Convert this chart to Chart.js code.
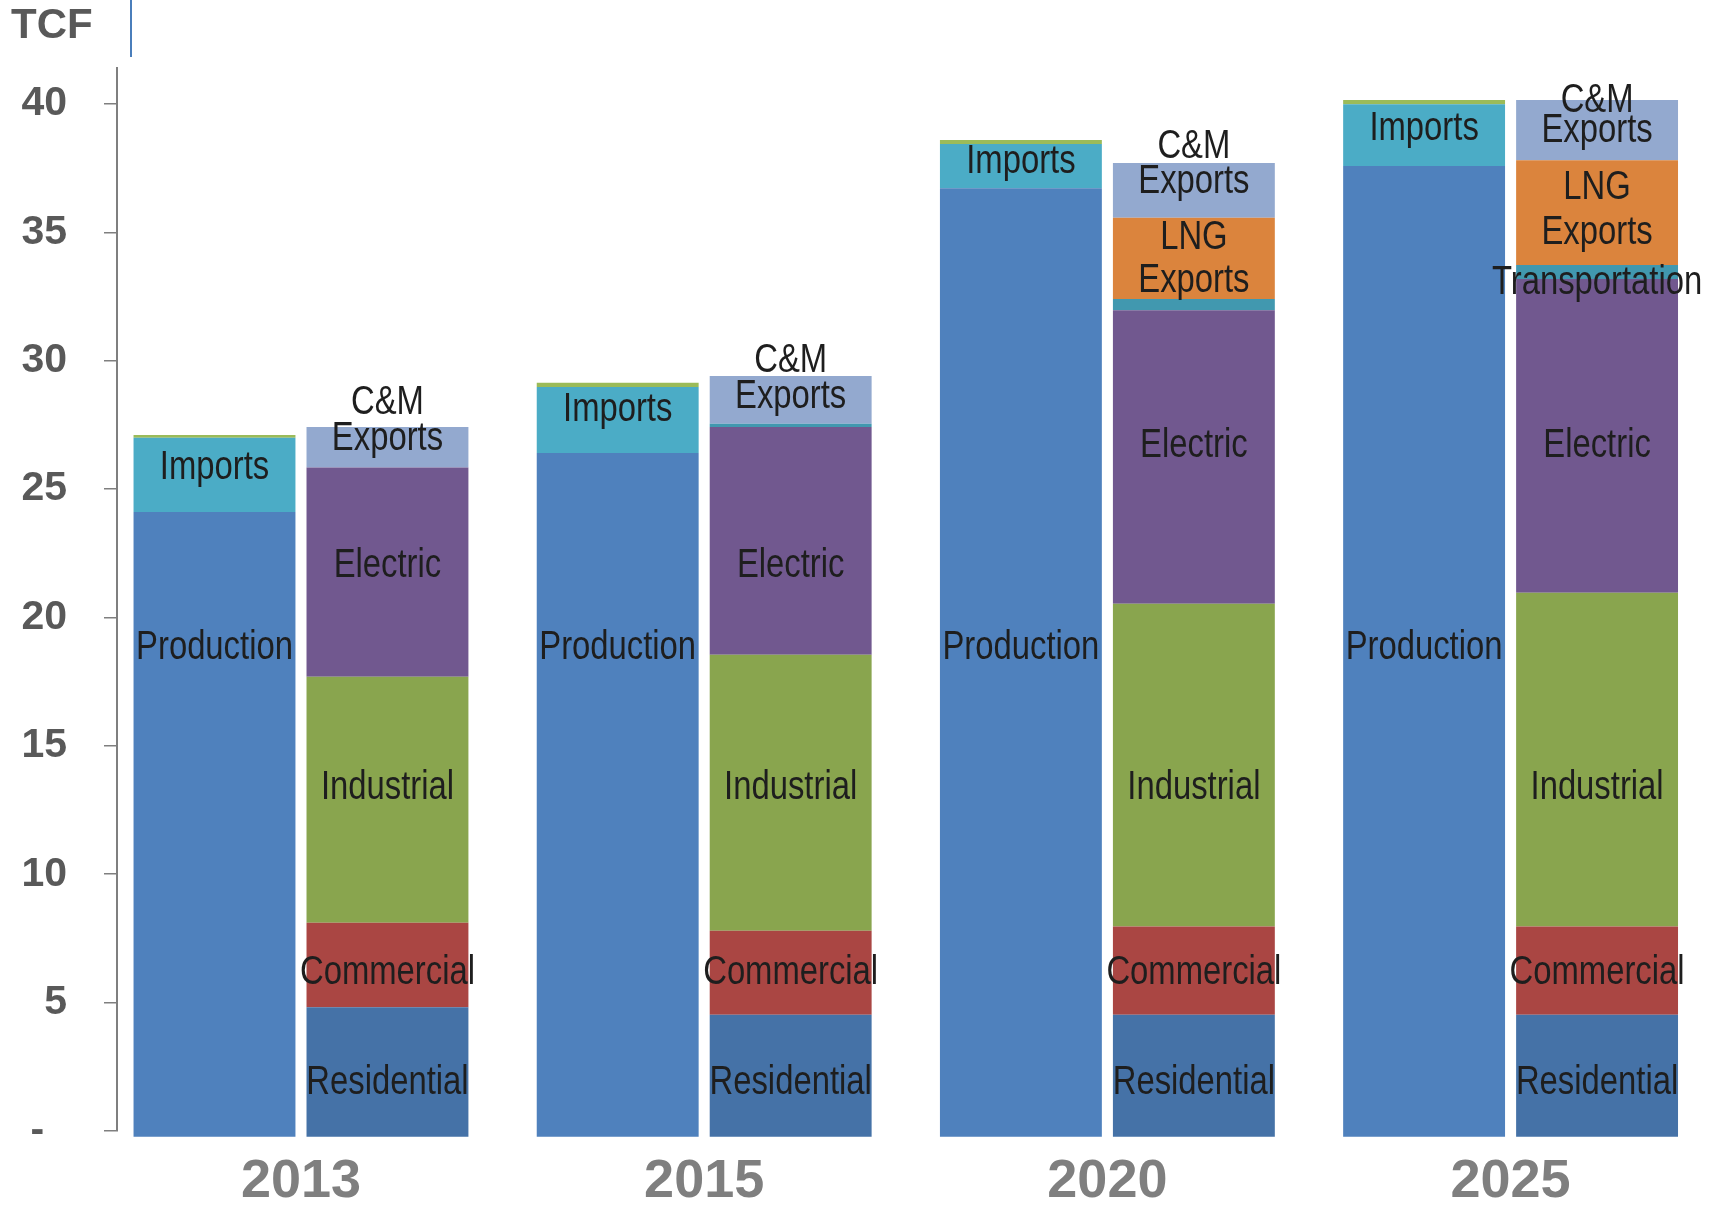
<!DOCTYPE html>
<html><head><meta charset="utf-8">
<script src="https://cdn.jsdelivr.net/npm/chart.js@4.4.1/dist/chart.umd.min.js"></script>
<style>html,body{margin:0;padding:0;background:#fff;overflow:hidden}#wrap{width:1714px;height:1207px;position:relative}</style>
</head><body><div id="wrap"><canvas id="c" width="1714" height="1207"></canvas></div>
<script>
// ---- data (TCF) ----
const years = ['2013', '2015', '2020', '2025'];
const yTickValues = [0, 5, 10, 15, 20, 25, 30, 35, 40];
// supply stack
const production = [24.11, 26.41, 36.72, 37.58];
const imports = [2.89, 2.57, 1.72, 2.41];
const otherSupply = [0.11, 0.16, 0.16, 0.16];
// demand stack
const residential = [4.82, 4.53, 4.53, 4.53];
const commercial = [3.29, 3.27, 3.43, 3.43];
const industrial = [9.58, 10.75, 12.57, 13.00];
const electric = [8.15, 8.87, 11.44, 12.22];
const transportation = [0, 0.12, 0.43, 0.55];
const lngExports = [0, 0, 3.17, 4.08];
const cmExports = [1.58, 1.86, 2.13, 2.34];

// label anchors: [series, category index, text, value at text cap-centre]
const segmentLabels = [
  ['Production', 0, 'Production', 18.93], ['Production', 1, 'Production', 18.93],
  ['Production', 2, 'Production', 18.93], ['Production', 3, 'Production', 18.93],
  ['Imports', 0, 'Imports', 25.95], ['Imports', 1, 'Imports', 28.2],
  ['Imports', 2, 'Imports', 37.86], ['Imports', 3, 'Imports', 39.15],
  ['Residential', 0, 'Residential', 2.0], ['Residential', 1, 'Residential', 2.0],
  ['Residential', 2, 'Residential', 2.0], ['Residential', 3, 'Residential', 2.0],
  ['Commercial', 0, 'Commercial', 6.27], ['Commercial', 1, 'Commercial', 6.27],
  ['Commercial', 2, 'Commercial', 6.27], ['Commercial', 3, 'Commercial', 6.27],
  ['Industrial', 0, 'Industrial', 13.48], ['Industrial', 1, 'Industrial', 13.48],
  ['Industrial', 2, 'Industrial', 13.48], ['Industrial', 3, 'Industrial', 13.48],
  ['Electric', 0, 'Electric', 22.13], ['Electric', 1, 'Electric', 22.13],
  ['Electric', 2, 'Electric', 26.81], ['Electric', 3, 'Electric', 26.81],
  ['Transportation', 3, 'Transportation', 33.14],
  ['LNG Exports', 2, 'LNG', 34.9], ['LNG Exports', 2, 'Exports', 33.22],
  ['LNG Exports', 3, 'LNG', 36.84], ['LNG Exports', 3, 'Exports', 35.09],
  ['C&M Exports', 0, 'C&M', 28.47], ['C&M Exports', 0, 'Exports', 27.09],
  ['C&M Exports', 1, 'C&M', 30.1], ['C&M Exports', 1, 'Exports', 28.7],
  ['C&M Exports', 2, 'C&M', 38.46], ['C&M Exports', 2, 'Exports', 37.07],
  ['C&M Exports', 3, 'C&M', 40.25], ['C&M Exports', 3, 'Exports', 39.06]
];

const series = [
  ['Production', 'supply', production, '#4F81BD'],
  ['Imports', 'supply', imports, '#4BACC6'],
  ['Other', 'supply', otherSupply, '#9BBB59'],
  ['Residential', 'demand', residential, '#4572A7'],
  ['Commercial', 'demand', commercial, '#AA4643'],
  ['Industrial', 'demand', industrial, '#89A54E'],
  ['Electric', 'demand', electric, '#71588F'],
  ['Transportation', 'demand', transportation, '#4198AF'],
  ['LNG Exports', 'demand', lngExports, '#DB843D'],
  ['C&M Exports', 'demand', cmExports, '#93A9CF']
];
// bottom segments in the original start slightly below the axis line
const bottomSeries = ['Production', 'Residential'];

function fontAvailable(name) {
  const c = document.createElement('canvas').getContext('2d');
  const s = 'Production Commercial Transportation';
  c.font = '40px monospace';
  const a = c.measureText(s).width;
  c.font = '40px "' + name + '", monospace';
  const b = c.measureText(s).width;
  return Math.abs(a - b) > 0.5;
}
const narrowOK = fontAvailable('Liberation Sans Narrow');
const LABEL_SIZE = 40;

const segLabelPlugin = {
  id: 'segLabels',
  afterDatasetsDraw(chart) {
    const ctx = chart.ctx;
    const ys = chart.scales.y;
    ctx.save();
    ctx.fillStyle = '#1e1e1e';
    ctx.textAlign = 'center';
    ctx.textBaseline = 'alphabetic';
    ctx.font = narrowOK ? LABEL_SIZE + 'px "Liberation Sans Narrow"' : LABEL_SIZE + 'px "Liberation Sans", Arial, sans-serif';
    const sx = narrowOK ? 1 : 0.82;
    for (const [name, idx, text, v] of segmentLabels) {
      const di = chart.data.datasets.findIndex(d => d.label === name);
      const bar = chart.getDatasetMeta(di).data[idx];
      const px = bar.x;
      const py = ys.getPixelForValue(v) + 0.358 * LABEL_SIZE;
      ctx.save();
      ctx.translate(px, py);
      ctx.scale(sx, 1);
      ctx.fillText(text, 0, 0);
      ctx.restore();
    }
    ctx.restore();
  }
};

const decoPlugin = {
  id: 'deco',
  afterDraw(chart) {
    const ctx = chart.ctx;
    ctx.save();
    ctx.fillStyle = '#595959';
    ctx.font = 'bold 42px "Liberation Sans", Arial, sans-serif';
    ctx.textAlign = 'left';
    ctx.textBaseline = 'alphabetic';
    ctx.fillText('TCF', 11, 38);
    ctx.strokeStyle = '#4A7EBB';
    ctx.lineWidth = 2;
    ctx.beginPath();
    ctx.moveTo(131, 0);
    ctx.lineTo(131, 57);
    ctx.stroke();
    ctx.restore();
  }
};

new Chart(document.getElementById('c'), {
  type: 'bar',
  data: {
    datasets: series.map(([label, stack, vals, color]) => {
      const ds = {
        label, stack,
        data: vals.map((v, i) => ({ x: i, y: v })),
        backgroundColor: color,
        borderWidth: 0,
        clip: false
      };
      if (bottomSeries.includes(label)) ds.base = -0.22;
      return ds;
    })
  },
  options: {
    responsive: false,
    animation: false,
    devicePixelRatio: 1,
    layout: { padding: { top: 68, left: 0, right: 0, bottom: 0 } },
    datasets: { bar: { categoryPercentage: 0.858, barPercentage: 0.936 } },
    plugins: { legend: { display: false }, tooltip: { enabled: false }, title: { display: false } },
    scales: {
      x: {
        type: 'linear',
        stacked: true,
        offset: false,
        min: -0.4563,
        max: 3.5045,
        grid: { display: false, drawTicks: false, offset: false },
        border: { display: false },
        afterBuildTicks: s => { s.ticks = years.map((_, i) => ({ value: i })); },
        afterFit: s => { s.height = 76; },
        ticks: {
          callback: v => years[v],
          autoSkip: false, maxRotation: 0,
          font: { family: '"Liberation Sans", Arial, sans-serif', size: 54, weight: 'bold' },
          color: '#7f7f7f',
          padding: 19
        }
      },
      y: {
        stacked: true,
        min: 0,
        max: 41.4,
        afterBuildTicks: s => { s.ticks = yTickValues.map(v => ({ value: v })); },
        afterFit: s => { s.width = 117; },
        grid: { display: true, drawOnChartArea: false, drawTicks: true, tickLength: 13, color: '#7f7f7f', lineWidth: 1.5 },
        border: { display: true, color: '#7f7f7f', width: 2 },
        ticks: {
          callback: v => (v === 0 ? '-  ' : String(v)),
          font: { family: '"Liberation Sans", Arial, sans-serif', size: 41, weight: 'bold' },
          color: '#595959',
          padding: 37
        }
      }
    }
  },
  plugins: [segLabelPlugin, decoPlugin]
});
</script>
</body></html>
